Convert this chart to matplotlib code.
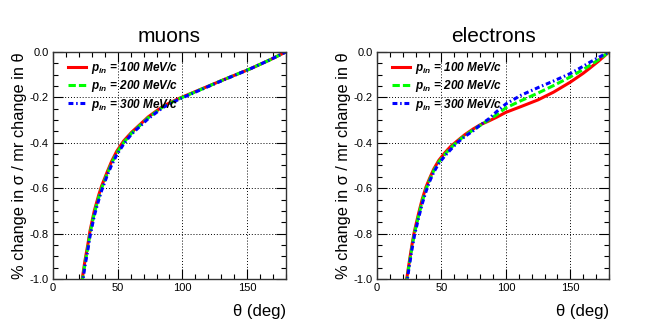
import matplotlib
matplotlib.use("Agg")
import matplotlib.pyplot as plt
from matplotlib.ticker import MultipleLocator, FormatStrFormatter

plt.rcParams["font.family"] = ["Liberation Sans", "DejaVu Sans"]
plt.rcParams["mathtext.fontset"] = "custom"
plt.rcParams["mathtext.it"] = "Liberation Sans:italic:bold"
plt.rcParams["mathtext.rm"] = "Liberation Sans:bold"

# values
momenta = ["100", "200", "300"]

mu_theta = [22.5, 22.9, 24.7, 27, 28.6, 31.9, 35.3, 37.6, 42, 45.3, 49.2, 54.5, 60.7, 73.6, 85.2, 96.8,
            113.6, 131.6, 152.2, 167.6, 180]
mu_100 = [-1.004, -0.988, -0.919, -0.846, -0.788, -0.70, -0.631, -0.59, -0.527, -0.482, -0.438, -0.393,
          -0.354, -0.286, -0.238, -0.206, -0.166, -0.123, -0.075, -0.035, 0.0]
mu_200 = [-1.016, -1.0, -0.931, -0.858, -0.80, -0.711, -0.642, -0.60, -0.535, -0.49, -0.446, -0.40,
          -0.358, -0.29, -0.241, -0.208, -0.167, -0.123, -0.075, -0.035, 0.0]
mu_300 = [-1.028, -1.012, -0.943, -0.870, -0.812, -0.722, -0.653, -0.61, -0.543, -0.498, -0.454, -0.407,
          -0.362, -0.294, -0.244, -0.210, -0.168, -0.124, -0.075, -0.035, 0.0]

el_theta = [22.5, 23.3, 25.2, 27.1, 29, 32.4, 35, 38, 41, 44, 48, 52.8, 57, 61.8, 68, 74.7, 80, 86.4,
            93, 100, 112, 125, 137, 150, 160, 165, 172, 180]
el_100 = [-1.01, -0.99, -0.918, -0.85, -0.79, -0.708, -0.65, -0.595, -0.554, -0.516, -0.477, -0.443,
          -0.417, -0.394, -0.365, -0.339, -0.321, -0.305, -0.287, -0.266, -0.24, -0.211, -0.177, -0.133,
          -0.094, -0.072, -0.04, 0.0]
el_200 = [-1.02, -1.0, -0.928, -0.86, -0.80, -0.718, -0.66, -0.605, -0.561, -0.523, -0.484, -0.45,
          -0.424, -0.398, -0.369, -0.343, -0.324, -0.300, -0.276, -0.246, -0.214, -0.181, -0.148, -0.11,
          -0.077, -0.06, -0.034, 0.0]
el_300 = [-1.03, -1.01, -0.938, -0.87, -0.81, -0.728, -0.67, -0.615, -0.568, -0.53, -0.491, -0.457,
          -0.431, -0.402, -0.373, -0.347, -0.322, -0.296, -0.262, -0.229, -0.19, -0.157, -0.128, -0.095,
          -0.063, -0.046, -0.024, 0.0]

panels = [
    ("muons", mu_theta, [mu_100, mu_200, mu_300]),
    ("electrons", el_theta, [el_100, el_200, el_300]),
]

colors = ["#ff0000", "#00ff00", "#0000ff"]
dashes = [None, [2.4, 1.0], [1.6, 0.9, 0.5, 0.9]]

fig = plt.figure(figsize=(6.47, 3.32), dpi=100)
axes = [fig.add_axes([0.0819, 0.1596, 0.360, 0.684]),
        fig.add_axes([0.5827, 0.1596, 0.3586, 0.684])]

for ax, (title, theta, series) in zip(axes, panels):
    for vals, p, c, d in zip(series, momenta, colors, dashes):
        line, = ax.plot(theta, vals, color=c, lw=2.2, label=r"$p_{in}$ = " + p + " MeV/c")
        if d is not None:
            line.set_dashes(d)
    ax.set_xlim(0, 180)
    ax.set_ylim(-1.0, 0.0)
    ax.xaxis.set_major_locator(MultipleLocator(50))
    ax.xaxis.set_minor_locator(MultipleLocator(10))
    ax.yaxis.set_major_locator(MultipleLocator(0.2))
    ax.yaxis.set_minor_locator(MultipleLocator(0.05))
    ax.yaxis.set_major_formatter(FormatStrFormatter("%.1f"))
    ax.tick_params(which="both", direction="in", top=True, right=True, labelsize=8, pad=3)
    ax.tick_params(which="major", length=7, width=0.8)
    ax.tick_params(which="minor", length=3.5, width=0.8)
    ax.grid(True, which="major", color="black", linestyle=(0, (1, 2)), lw=0.7)
    for s in ax.spines.values():
        s.set_color("#333333")
        s.set_linewidth(1.0)
    ax.set_title(title, fontsize=15, pad=7)
    ax.set_xlabel(r"θ (deg)", fontsize=12, loc="right", labelpad=8)
    ax.set_ylabel("% change in σ / mr change in θ", fontsize=11.8, loc="top", labelpad=2)
    leg = ax.legend(loc="upper left", bbox_to_anchor=(0.02, 1.012), frameon=False, fontsize=8.5,
                    handlelength=1.5, handletextpad=0.45, labelspacing=0.2)
    for t in leg.get_texts():
        t.set_fontweight("bold")
        t.set_fontstyle("italic")

fig.savefig("out.png", dpi=100)
